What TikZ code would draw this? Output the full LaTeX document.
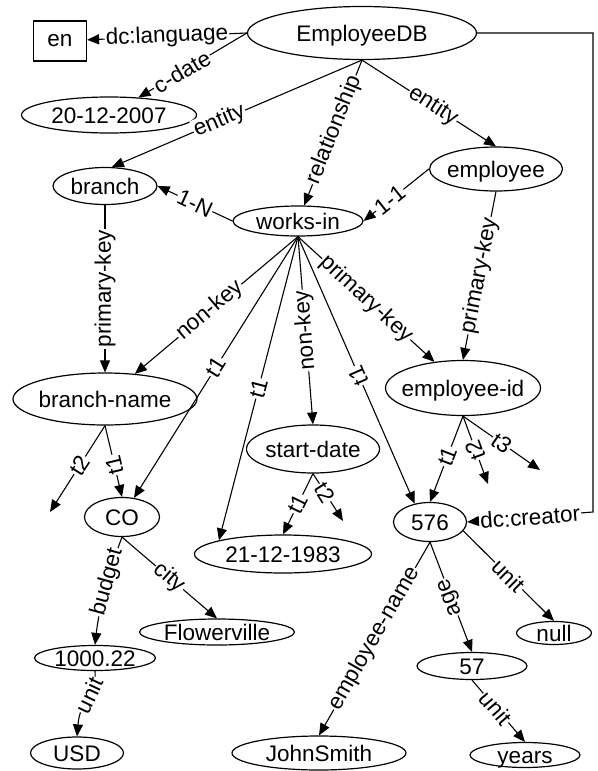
\documentclass[tikz,border=0pt]{standalone}
\usepackage{fontspec}
\setmainfont{Liberation Sans}
\usetikzlibrary{shapes.geometric,arrows.meta}
\newcommand{\vt}[1]{\smash{\makebox[0pt]{\raisebox{-0.36em}{#1}}}}
\tikzset{
  val/.style={draw, ellipse, line width=1.2pt, inner sep=0pt},
  rel/.style={->, line width=1.1pt},
  relback/.style={<-, line width=1.1pt},
  lab/.style={fill=white, inner sep=1pt, sloped},
}
\begin{document}
\begin{tikzpicture}[x=1pt, y=-1pt, font=\fontsize{22.5}{26}\selectfont, >={Triangle[length=12pt,width=10pt]}]
\useasboundingbox (0,0) rectangle (597,771);
\node [draw, line width=1.2pt, minimum width=53pt, minimum height=40pt, inner sep=0pt] (en) at (60,41) {en};
\node [val, minimum width=229pt, minimum height=53pt] (db) at (362,33) {\vt{EmployeeDB}};
\node [val, minimum width=175pt, minimum height=36pt] (d2007) at (109,115) {\vt{20-12-2007}};
\node [val, minimum width=104pt, minimum height=37pt] (branch) at (105,186) {\vt{branch}};
\node [val, minimum width=133pt, minimum height=44pt] (employee) at (496,169) {\vt{employee}};
\node [val, minimum width=130pt, minimum height=30pt] (worksin) at (298,221) {\vt{works-in}};
\node [val, minimum width=184pt, minimum height=52pt] (bname) at (105,399) {\vt{branch-name}};
\node [val, minimum width=155pt, minimum height=55pt] (empid) at (463,388) {\vt{employee-id}};
\node [val, minimum width=133pt, minimum height=48pt] (sdate) at (313,449) {\vt{start-date}};
\node [val, minimum width=75pt, minimum height=39pt] (co) at (122,517) {\vt{CO}};
\node [val, minimum width=177pt, minimum height=38pt] (d1983) at (283,554) {\vt{21-12-1983}};
\node [val, minimum width=73pt, minimum height=39pt] (n576) at (430,522) {\vt{576}};
\node [val, minimum width=155pt, minimum height=26pt] (flower) at (217,632) {\vt{Flowerville}};
\node [val, minimum width=121pt, minimum height=25pt] (d1000) at (95,658) {\vt{1000.22}};
\node [val, minimum width=93pt, minimum height=32pt] (usd) at (77,753) {\vt{USD}};
\node [val, minimum width=75pt, minimum height=23pt] (nnull) at (554,633) {\vt{null}};
\node [val, minimum width=110pt, minimum height=27pt] (n57) at (472,666) {\vt{57}};
\node [val, minimum width=174pt, minimum height=34pt] (john) at (319,753) {\vt{JohnSmith}};
\node [val, minimum width=110pt, minimum height=25pt] (years) at (525,755) {\vt{years}};

\coordinate (dbR) at (593,33);
\coordinate (crR) at (593,512);
\coordinate (bnT2) at (50,512);
\coordinate (sdT2) at (343,521);
\coordinate (eiT2) at (488,484);
\coordinate (eiT3) at (540,470);

\draw [rel] (db.west) -- node [lab] {dc:language} (en);
\draw [rel] (db.west) -- node [lab, pos=.6] {c-date} (d2007);
\draw [rel] (db.south) -- node [lab, pos=.57] {entity} (branch.70);
\draw [rel] (db.south) -- node [lab, pos=.48] {relationship} (worksin);
\draw [rel] (db.south) -- node [lab, pos=.53] {entity} (employee.north);
\draw [rel] (worksin.west) -- node [lab] {1-N} (branch.east);
\draw [rel] (employee.west) -- node [lab, pos=.6] {1-1} (worksin.east);
\draw [rel] (branch) -- node [lab, sloped=false, rotate=90] {primary-key} (bname);
\draw [rel] (employee.south) -- node [lab] {primary-key} (empid.north);
\draw [rel] (worksin.south) -- node [lab, pos=.54] {non-key} (bname);
\draw [rel] (worksin.south) -- node [lab] {t1} (co);
\draw [rel] (worksin.south) -- node [lab] {t1} (d1983.168);
\draw [relback] (sdate.north) -- node [lab, allow upside down] {non-key} (worksin.south);
\draw [rel] (worksin.south) -- node [lab] {primary-key} (empid);
\draw [relback] (n576.130) -- node [lab, pos=.48, allow upside down] {t1} (worksin.south);
\draw [rel] (bname.south) -- node [lab, pos=.46] {t2} (bnT2);
\draw [relback] (co.north) -- node [lab, pos=.45, allow upside down] {t1} (bname.south);
\draw [rel] (sdate.south) -- node [lab] {t1} (d1983.north);
\draw [rel] (sdate.south) -- node [lab, pos=.4] {t2} (sdT2);
\draw [rel] (empid.south) -- node [lab, pos=.47] {t1} (n576.north);
\draw [relback] (eiT2) -- node [lab, allow upside down] {t2} (empid.south);
\draw [rel] (empid.south) -- node [lab] {t3} (eiT3);
\draw [rel] (db.east) -- (dbR) -- (crR) -- node [lab] {dc:creator} (n576.east);
\draw [rel] (co.south) .. controls (114,558) and (100,600) .. node [lab] {budget} (d1000.north);
\draw [rel] (co.south) -- node [lab] {city} (flower.north);
\draw [rel] (d1000.south) .. controls (97,692) and (80,700) .. node [lab, pos=.45] {unit} (usd.north);
\draw [rel] (n576.south) -- node [lab] {employee-name} (john.north);
\draw [relback] (n57.north) -- node [lab, allow upside down] {age} (n576.south);
\draw [rel] (n576.-15) -- node [lab] {unit} (nnull.north);
\draw [rel] (n57.south) -- node [lab, pos=.45] {unit} (years.north);
\end{tikzpicture}
\end{document}
